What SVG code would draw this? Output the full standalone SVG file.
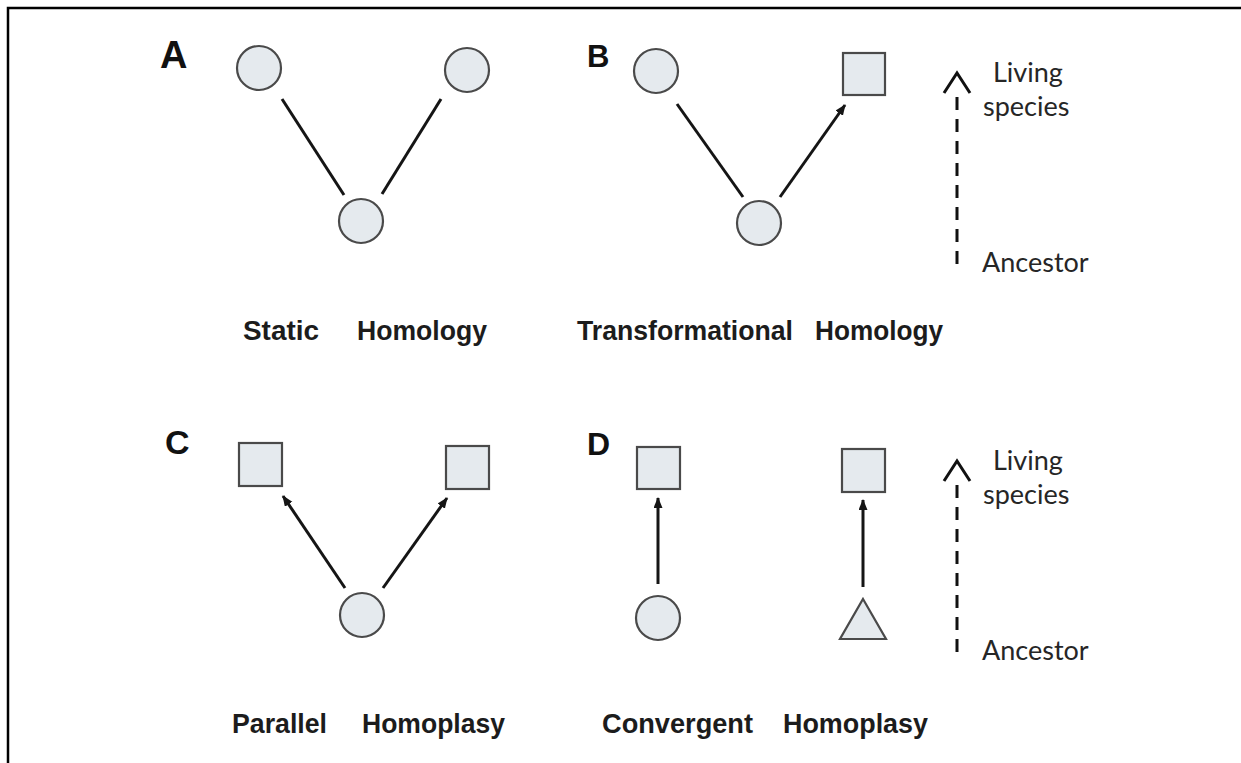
<svg xmlns="http://www.w3.org/2000/svg" width="1241" height="763" viewBox="0 0 1241 763">
  <style>
    .bg { fill: #ffffff; }
    .frame { fill: none; stroke: #000; stroke-width: 2.5; }
    .shape { fill: #e5eaee; stroke: #4a4a4a; stroke-width: 2.2; }
    .edge { stroke: #151515; stroke-width: 3; fill: none; }
    .axis { stroke: #111; stroke-width: 3; fill: none; stroke-dasharray: 13 9; }
    .chev { stroke: #111; stroke-width: 3; fill: none; stroke-linejoin: miter; }
    .panel { font-family: "Liberation Sans", Arial, sans-serif; font-weight: bold; fill: #111; }
    .lab { font-family: "Liberation Sans", Arial, sans-serif; font-weight: bold; font-size: 28px; fill: #1c1c1c; }
    .side { font-family: Lato, "Open Sans", sans-serif; font-size: 27px; fill: #262626; }
  </style>
  <defs>
    <marker id="ah" markerUnits="userSpaceOnUse" markerWidth="12" markerHeight="10" refX="10" refY="4.5" orient="auto">
      <path d="M0,0 L11,4.5 L0,9 z" fill="#151515"/>
    </marker>
  </defs>

  <rect class="bg" x="0" y="0" width="1241" height="763"/>
  <path class="frame" d="M8,763 V8 H1241"/>

  <!-- Panel labels -->
  <text class="panel" x="160" y="68" font-size="38">A</text>
  <text class="panel" x="587" y="67" font-size="31">B</text>
  <text class="panel" x="165" y="454" font-size="34">C</text>
  <text class="panel" x="587" y="455" font-size="32">D</text>

  <!-- Connectors -->
  <g id="connectors">
    <!-- A -->
    <line class="edge" x1="282" y1="99" x2="344" y2="195"/>
    <line class="edge" x1="382" y1="194" x2="441" y2="99"/>
    <!-- B -->
    <line class="edge" x1="677" y1="104" x2="743" y2="197"/>
    <line class="edge" x1="780" y1="197" x2="845" y2="105" marker-end="url(#ah)"/>
    <!-- C -->
    <line class="edge" x1="345" y1="588" x2="283" y2="496" marker-end="url(#ah)"/>
    <line class="edge" x1="383" y1="588" x2="447" y2="498" marker-end="url(#ah)"/>
    <!-- D -->
    <line class="edge" x1="658" y1="584" x2="658" y2="498" marker-end="url(#ah)"/>
    <line class="edge" x1="863" y1="587" x2="863" y2="500" marker-end="url(#ah)"/>
    <!-- time axes -->
    <line class="axis" x1="957" y1="97" x2="957" y2="270"/>
    <polyline class="chev" points="944,93 957,73 970,93"/>
    <line class="axis" x1="957" y1="485" x2="957" y2="658"/>
    <polyline class="chev" points="944,481 957,461 970,481"/>
  </g>

  <!-- Panel A nodes -->
  <g id="a-left"><circle class="shape" cx="259" cy="68" r="22"/></g>
  <g id="a-right"><circle class="shape" cx="467" cy="70" r="22"/></g>
  <g id="a-anc"><circle class="shape" cx="361" cy="221" r="22"/></g>

  <!-- Panel B nodes -->
  <g id="b-left"><circle class="shape" cx="656" cy="71" r="22"/></g>
  <g id="b-right"><rect class="shape" x="843" y="53" width="42" height="42"/></g>
  <g id="b-anc"><circle class="shape" cx="759" cy="223" r="22"/></g>

  <!-- Panel C nodes -->
  <g id="c-left"><rect class="shape" x="239" y="443" width="43" height="43"/></g>
  <g id="c-right"><rect class="shape" x="446" y="446" width="43" height="43"/></g>
  <g id="c-anc"><circle class="shape" cx="362" cy="615" r="22"/></g>

  <!-- Panel D nodes -->
  <g id="d-left-top"><rect class="shape" x="637" y="447" width="43" height="42"/></g>
  <g id="d-left-anc"><circle class="shape" cx="658" cy="618" r="22"/></g>
  <g id="d-right-top"><rect class="shape" x="842" y="449" width="43" height="43"/></g>
  <g id="d-right-anc"><polygon class="shape" points="863,599 886,639 840,639"/></g>

  <!-- Captions -->
  <text class="lab" x="243" y="340" textLength="76" lengthAdjust="spacingAndGlyphs">Static</text>
  <text class="lab" x="357" y="340" textLength="130" lengthAdjust="spacingAndGlyphs">Homology</text>
  <text class="lab" x="577" y="340" textLength="216" lengthAdjust="spacingAndGlyphs">Transformational</text>
  <text class="lab" x="815" y="340" textLength="128" lengthAdjust="spacingAndGlyphs">Homology</text>
  <text class="lab" x="232" y="733" textLength="95" lengthAdjust="spacingAndGlyphs">Parallel</text>
  <text class="lab" x="362" y="733" textLength="143" lengthAdjust="spacingAndGlyphs">Homoplasy</text>
  <text class="lab" x="602" y="733" textLength="151" lengthAdjust="spacingAndGlyphs">Convergent</text>
  <text class="lab" x="783" y="733" textLength="145" lengthAdjust="spacingAndGlyphs">Homoplasy</text>

  <!-- Axis labels -->
  <text class="side" x="993" y="82">Living</text>
  <text class="side" x="983" y="116">species</text>
  <text class="side" x="982" y="272">Ancestor</text>
  <text class="side" x="993" y="470">Living</text>
  <text class="side" x="983" y="504">species</text>
  <text class="side" x="982" y="660">Ancestor</text>
</svg>
